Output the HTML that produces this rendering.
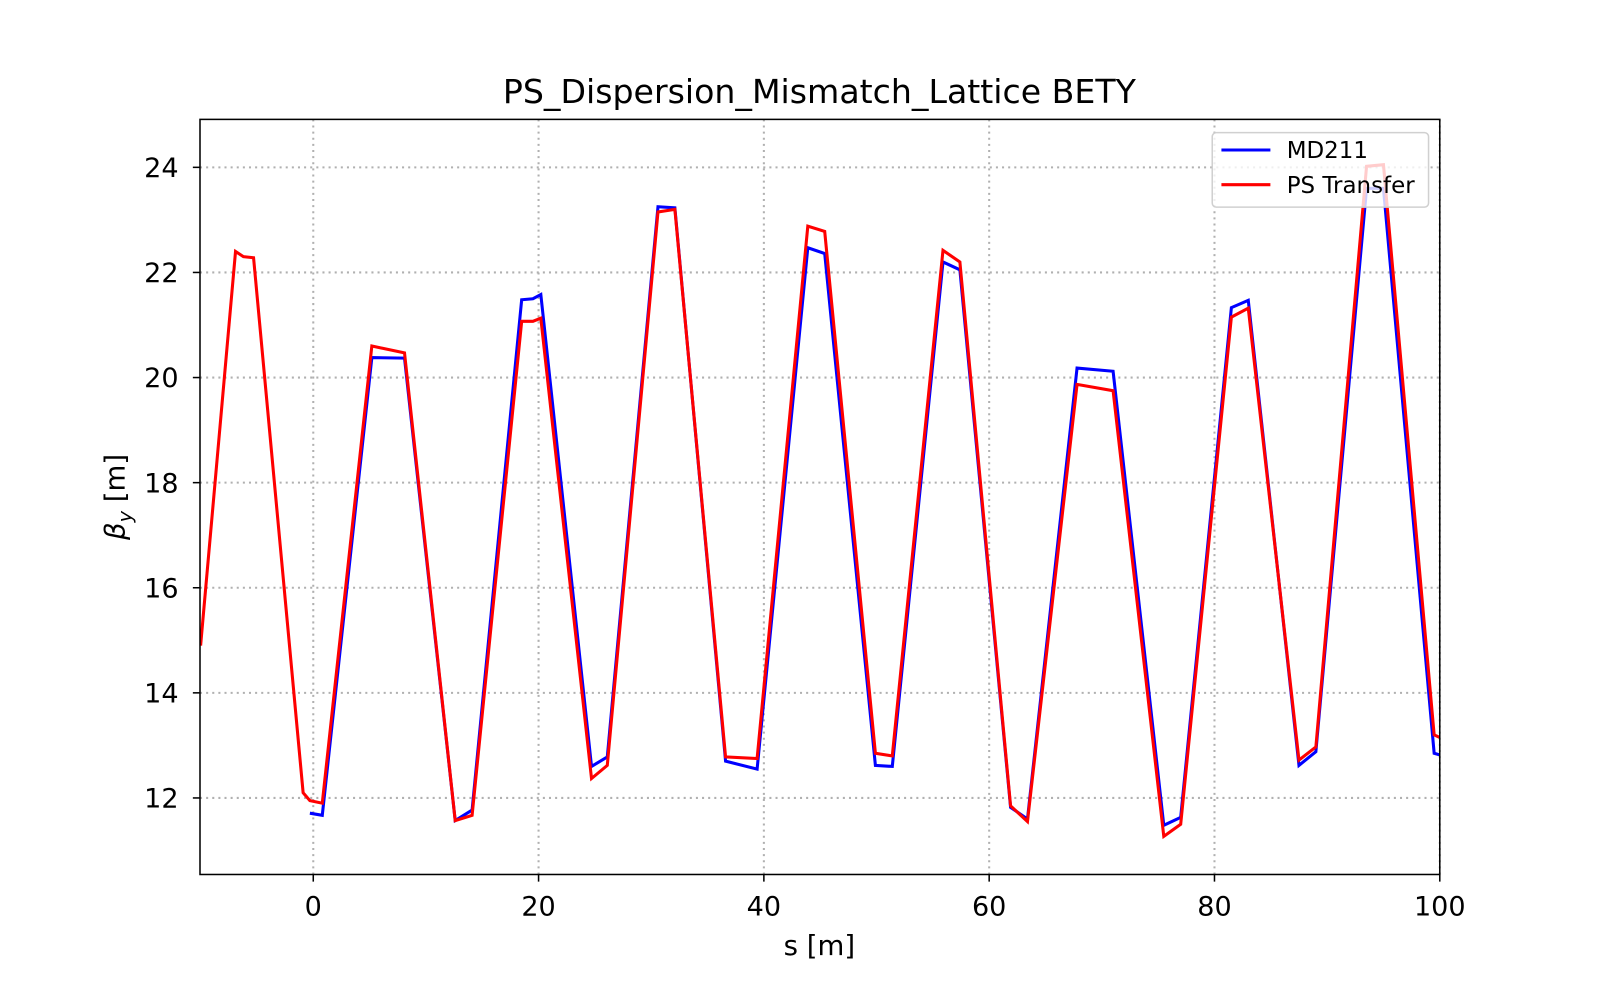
<!DOCTYPE html>
<html><head><meta charset="utf-8"><style>
body{margin:0;background:#fff}
svg{display:block;font-family:"DejaVu Sans","Liberation Sans",sans-serif}
</style></head><body>
<svg width="1600" height="1000"><g id="chart" transform="scale(1.0204)"></g></svg>
<script>
const xTicks=[0,20,40,60,80,100];
const yTicks=[12,14,16,18,20,22,24];
const redS=[-10,-6.9,-6.2,-5.3,-0.9,-0.3,0.8,5.2,8.1,12.6,14.1,18.5,19.5,20.2,24.7,26.1,30.6,32.1,36.6,39.4,43.9,45.4,49.9,51.4,55.9,57.4,61.9,63.4,67.8,71.0,75.5,77,81.5,83,87.5,89,93.5,95,99.5,100];
const redB=[14.9,22.4,22.3,22.28,12.1,11.95,11.9,20.6,20.47,11.57,11.67,21.07,21.07,21.13,12.37,12.62,23.15,23.2,12.78,12.75,22.88,22.78,12.85,12.8,22.42,22.2,11.85,11.55,19.87,19.75,11.27,11.5,21.15,21.32,12.72,12.97,24.02,24.05,13.2,13.15];
const blueS=[-0.3,0.8,5.2,8.1,12.6,14.1,18.5,19.5,20.2,24.7,26.1,30.6,32.1,36.6,39.4,43.9,45.4,49.9,51.4,55.9,57.4,61.9,63.4,67.8,71.0,75.5,77,81.5,83,87.5,89,93.5,95,99.5,100];
const blueB=[11.71,11.67,20.38,20.37,11.57,11.77,21.48,21.5,21.58,12.6,12.78,23.25,23.23,12.7,12.55,22.47,22.36,12.62,12.6,22.2,22.05,11.82,11.6,20.18,20.12,11.48,11.63,21.33,21.47,12.62,12.88,23.6,23.6,12.85,12.82];

const L=196,R=1411,T=117,B=857;
const xs=s=>307+(s-0)*(1411-307)/100;
const ys=b=>782-(b-12)*(782-164)/12;
const svg=document.getElementById('chart');
const NS='http://www.w3.org/2000/svg';
function mk(tag,attrs,text){const e=document.createElementNS(NS,tag);for(const k in attrs)e.setAttribute(k,attrs[k]);if(text!==undefined)e.textContent=text;svg.appendChild(e);return e;}

const clip=mk('clipPath',{id:'pc'});
const cr=document.createElementNS(NS,'rect');cr.setAttribute('x',L);cr.setAttribute('y',T);cr.setAttribute('width',R-L);cr.setAttribute('height',B-T);clip.appendChild(cr);

xTicks.forEach(t=>{
 const g=mk('line',{x1:xs(t),x2:xs(t),y1:T,y2:B,stroke:'#b0b0b0','stroke-width':2,'stroke-dasharray':'2,4'});
 
 
 const tk=mk('line',{x1:xs(t),x2:xs(t),y1:B,y2:B+7,stroke:'#000','stroke-width':1.5});
 
 
 const lb=mk('text',{x:xs(t),y:B+40,'text-anchor':'middle','font-size':'26.5'},t);
 
 
});
yTicks.forEach(t=>{
 const g=mk('line',{x1:L,x2:R,y1:ys(t),y2:ys(t),stroke:'#b0b0b0','stroke-width':2,'stroke-dasharray':'2,4'});
 
 
 const tk=mk('line',{x1:L-7,x2:L,y1:ys(t),y2:ys(t),stroke:'#000','stroke-width':1.5});
 
 
 const lb=mk('text',{x:L-21,y:ys(t)+9.5,'text-anchor':'end','font-size':'26.5'},t);
 
 
});
function line(S,Bv,color,name){
 const p=mk('polyline',{points:S.map((s,i)=>xs(s)+','+ys(Bv[i])).join(' '),fill:'none',stroke:color,'stroke-width':3,'stroke-linejoin':'miter','clip-path':'url(#pc)'});
 
 
}
line(blueS,blueB,'#0000ff','md211-line');
line(redS,redB,'#ff0000','ps-transfer-line');

const fr=mk('rect',{x:L,y:T,width:R-L,height:B-T,fill:'none',stroke:'#000','stroke-width':1.5});



const lg=mk('rect',{x:1188,y:130,width:212,height:73,rx:4,fill:'rgba(255,255,255,0.8)',stroke:'#d0d0d0','stroke-width':1.5});


const l1=mk('line',{x1:1197,x2:1245,y1:147,y2:147,stroke:'#0000ff','stroke-width':3});


const t1=mk('text',{x:1261,y:155,'font-size':'22.5'},'MD211');


const l2=mk('line',{x1:1197,x2:1245,y1:181,y2:181,stroke:'#ff0000','stroke-width':3});


const t2=mk('text',{x:1261,y:189,'font-size':'22.5'},'PS Transfer');



const ti=mk('text',{x:803,y:101,'text-anchor':'middle','font-size':'32.5'},'PS_Dispersion_Mismatch_Lattice BETY');


const xl=mk('text',{x:803,y:936,'text-anchor':'middle','font-size':'27'},'s [m]');


const yl=mk('text',{x:0,y:0,'text-anchor':'middle','font-size':'27',transform:'translate(122,487) rotate(-90)'});


yl.innerHTML='<tspan font-style="italic">β</tspan><tspan font-style="italic" font-size="19" dy="7">y</tspan><tspan dy="-7"> [m]</tspan>';
</script>
</body></html>
